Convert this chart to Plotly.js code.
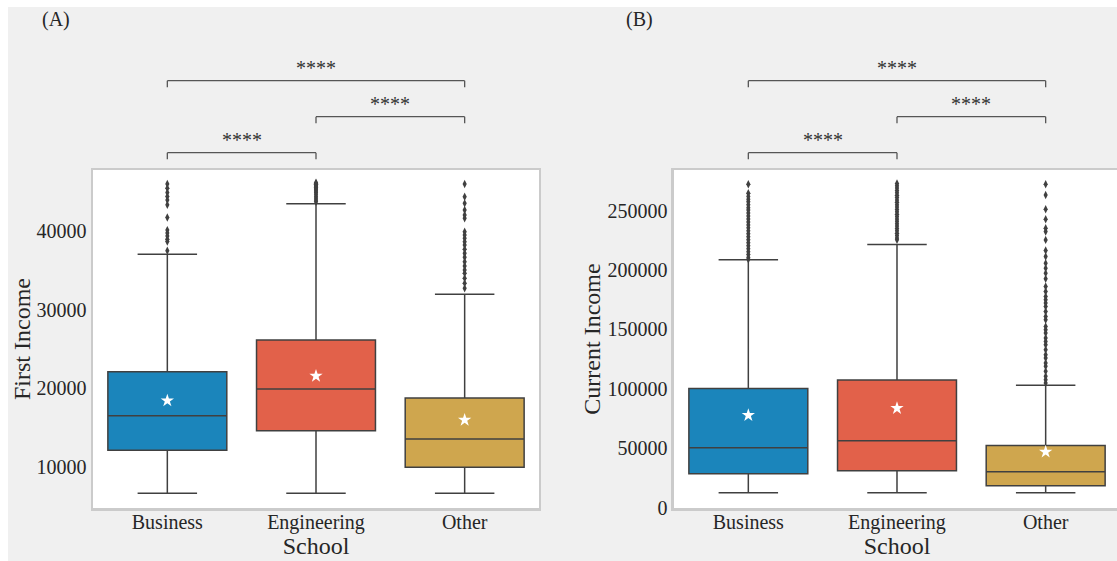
<!DOCTYPE html>
<html>
<head>
<meta charset="utf-8">
<script src="https://cdn.plot.ly/plotly-3.0.1.min.js"></script>
<style>
  html, body { margin: 0; padding: 0; background: #ffffff; overflow: hidden; }
  #chart { position: absolute; left: 8px; top: 7px; width: 1125px; height: 554px; }
</style>
</head>
<body>
<div id="chart"></div>
<script>
// Schools and their palette
const schools = ['Business', 'Engineering', 'Other'];
const schoolColors = ['#1b85bb', '#e2614a', '#cfa64e'];

// (A) First income: box statistics per school
const firstQ1 = [12180, 14660, 10030];
const firstMedian = [16560, 19940, 13610];
const firstQ3 = [22130, 26140, 18800];
const firstLowerFence = [6750, 6750, 6750];
const firstUpperFence = [36990, 43390, 31920];
const firstMean = [18460, 21580, 16010];

// (A) First income: outliers per school
const firstOutBusiness = [45900, 45350, 44800, 44300, 43850, 43250, 41650, 40050, 39700, 39300, 38900, 38600, 37450];
const firstOutEngineering = [46050, 45950, 45850, 45750, 45650, 45550, 45450, 45300, 45150, 45000, 44800, 44600, 44350, 44100, 43850, 43650];
const firstOutOther = [45890, 44280, 43440, 42600, 41960, 41540, 39850, 39430, 39010, 38580, 38170, 37620, 37110, 36610, 36050, 35510, 35000, 34580, 33950, 33320, 32680];

// (B) Current income: box statistics per school
const currQ1 = [28560, 31080, 18480];
const currMedian = [50400, 56280, 30240];
const currQ3 = [100220, 107530, 52340];
const currLowerFence = [12600, 12600, 12600];
const currUpperFence = [208580, 221440, 102990];
const currMean = [77790, 83670, 47040];

// (B) Current income: outliers per school
const currOutBusiness = [272200, 264600, 262000, 259500, 257500, 255000, 252500, 250500, 248000, 245500, 243000, 240500, 238000, 235500, 233000, 230500, 228000, 225500, 223000, 220500, 218000, 215500, 213000, 210500, 209000];
const currOutEngineering = [272900, 271000, 269000, 267000, 265000, 263000, 261000, 259000, 257000, 255000, 253000, 251000, 249000, 247000, 245000, 243000, 241000, 239000, 237000, 235000, 233000, 231000, 229000, 227000, 225500];
const currOutOther = [272180, 263190, 251180, 242770, 235210, 232360, 225390, 216400, 211360, 205810, 201610, 197410, 192620, 186160, 181960, 177760, 174980, 172210, 169350, 165150, 160950, 158180, 152550, 149790, 147010, 142810, 139950, 137180, 132980, 128780, 126010, 121810, 118950, 114750, 110550, 107780, 105010];

// Significance comparisons: [groupA, groupB, label]
const comparisons = [
  ['Business', 'Engineering', '****'],
  ['Engineering', 'Other', '****'],
  ['Business', 'Other', '****']
];

const FONT = 'Liberation Serif';
const TEXT = '#262626';
const EDGE = '#404040';

// page-pixel helper: plot areas span y = 170 .. 508 on the page
const plotTop = 170, plotBottom = 508;
function paperY(pageY) { return (plotBottom - pageY) / (plotBottom - plotTop); }

function panelTraces(xa, ya, q1, med, q3, lo, hi, mean, outliers) {
  const traces = [];
  schools.forEach((s, i) => {
    traces.push({
      type: 'box', xaxis: xa, yaxis: ya,
      x: [s], q1: [q1[i]], median: [med[i]], q3: [q3[i]],
      lowerfence: [lo[i]], upperfence: [hi[i]],
      boxpoints: false, width: 0.8, whiskerwidth: 0.5,
      fillcolor: schoolColors[i],
      line: {color: EDGE, width: 1.5},
      hoverinfo: 'skip', showlegend: false
    });
    traces.push({
      type: 'scatter', mode: 'markers', xaxis: xa, yaxis: ya,
      x: outliers[i].map(() => s), y: outliers[i],
      marker: {symbol: 'diamond-tall', size: 6, color: EDGE, line: {width: 0}},
      hoverinfo: 'skip', showlegend: false
    });
  });
  traces.push({
    type: 'scatter', mode: 'markers', xaxis: xa, yaxis: ya,
    x: schools, y: mean,
    marker: {symbol: 'star', size: 10, color: '#ffffff', line: {width: 0}},
    hoverinfo: 'skip', showlegend: false
  });
  return traces;
}

const data = [].concat(
  panelTraces('x', 'y', firstQ1, firstMedian, firstQ3, firstLowerFence, firstUpperFence, firstMean,
    [firstOutBusiness, firstOutEngineering, firstOutOther]),
  panelTraces('x2', 'y2', currQ1, currMedian, currQ3, currLowerFence, currUpperFence, currMean,
    [currOutBusiness, currOutEngineering, currOutOther])
);

// brackets with stars above each panel
const levelLine = [152.7, 116.7, 80.7];
const shapes = [];
const annotations = [];
['x', 'x2'].forEach(xref => {
  comparisons.forEach((c, k) => {
    const xa = schools.indexOf(c[0]);
    const xb = schools.indexOf(c[1]);
    const yTop = paperY(levelLine[k]);
    const yTick = paperY(levelLine[k] + 6.6);
    const ln = {color: '#555555', width: 1.3};
    shapes.push({type: 'line', xref: xref, yref: 'paper', x0: xa, x1: xa, y0: yTick, y1: yTop, line: ln});
    shapes.push({type: 'line', xref: xref, yref: 'paper', x0: xa, x1: xb, y0: yTop, y1: yTop, line: ln});
    shapes.push({type: 'line', xref: xref, yref: 'paper', x0: xb, x1: xb, y0: yTick, y1: yTop, line: ln});
    annotations.push({
      xref: xref, yref: 'paper', x: (xa + xb) / 2, y: yTop,
      xanchor: 'center', yanchor: 'bottom', text: c[2], showarrow: false,
      font: {family: FONT, size: 20, color: '#333333'}
    });
  });
});
annotations.push({xref: 'paper', yref: 'paper', x: -0.052, y: paperY(20), xanchor: 'left', yanchor: 'middle',
  text: '(A)', showarrow: false, font: {family: FONT, size: 20, color: TEXT}});
annotations.push({xref: 'paper', yref: 'paper', x: 0.5175, y: paperY(20), xanchor: 'left', yanchor: 'middle',
  text: '(B)', showarrow: false, font: {family: FONT, size: 20, color: TEXT}});

function xAxis(domain, anchor) {
  return {
    domain: domain, anchor: anchor, type: 'category',
    categoryorder: 'array', categoryarray: schools,
    range: [-0.5, 2.5], showgrid: false, zeroline: false,
    showline: true, mirror: true, linecolor: '#cbcbcb', linewidth: 2.5,
    ticks: '', ticklabelstandoff: -6, tickfont: {family: FONT, size: 20, color: TEXT},
    title: {text: 'School', font: {family: FONT, size: 24, color: TEXT}, standoff: 0},
    fixedrange: true
  };
}
function yAxis(anchor, range, dtick, title) {
  return {
    anchor: anchor, range: range, dtick: dtick, tick0: 0, tickformat: 'd',
    showgrid: false, zeroline: false,
    showline: true, mirror: true, linecolor: '#cbcbcb', linewidth: 2.5,
    ticks: '', tickfont: {family: FONT, size: 20, color: TEXT},
    title: {text: title, font: {family: FONT, size: 24, color: TEXT}},
    fixedrange: true
  };
}

const layout = {
  width: 1125, height: 554,
  margin: {l: 85, r: 13, t: 163, b: 53},
  paper_bgcolor: '#f0f0f0', plot_bgcolor: '#ffffff',
  boxmode: 'overlay', showlegend: false,
  xaxis: xAxis([0, 0.43427], 'y'),
  yaxis: yAxis('x', [4870, 47660], 10000, 'First Income'),
  xaxis2: xAxis([0.56572, 1], 'y2'),
  yaxis2: yAxis('x2', [-250, 284200], 50000, 'Current Income'),
  shapes: shapes, annotations: annotations
};

Plotly.newPlot('chart', data, layout, {staticPlot: true, displayModeBar: false});
</script>
</body>
</html>
